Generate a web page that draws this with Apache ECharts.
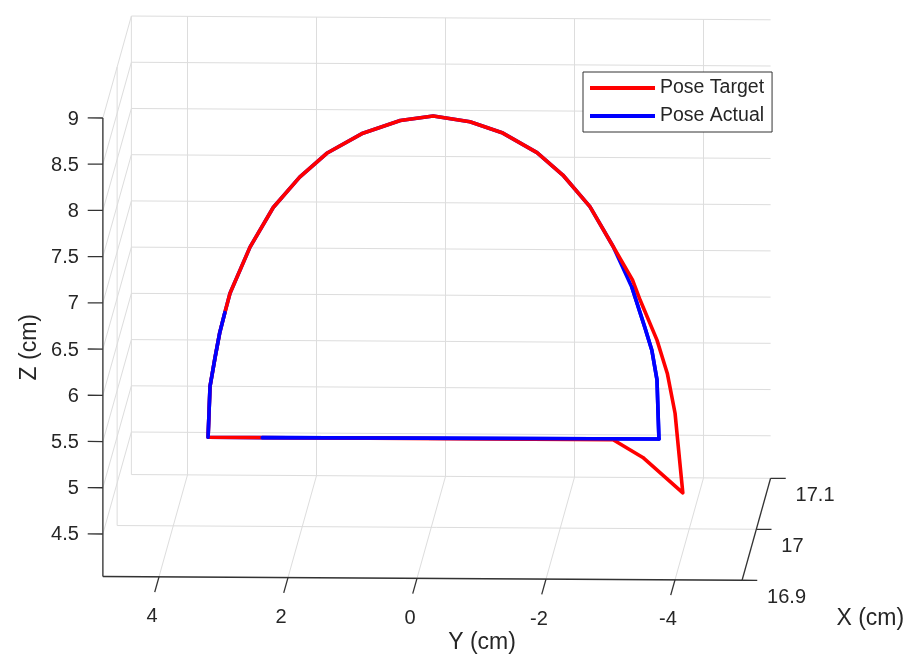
<!DOCTYPE html>
<html><head><meta charset="utf-8">
<script src="https://cdn.jsdelivr.net/npm/echarts@6/dist/echarts.min.js"></script>
<style>html,body{margin:0;padding:0;background:#fff}#c{width:911px;height:658px}</style>
</head><body><div id="c"></div>
<script>
const FONT = '"Liberation Sans", Arial, Helvetica, sans-serif';

// ---- axis limits and ticks (cm) ----
const xLim = [16.9, 17.1];
const yLim = [-5.04, 4.87];
const zLim = [4.04, 9.0];
const xTicks = [16.9, 17, 17.1];
const xTickLabels = ['16.9', '17', '17.1'];
const yTicks = [4, 2, 0, -2, -4];
const yTickLabels = ['4', '2', '0', '-2', '-4'];
const zTicks = [4.5, 5, 5.5, 6, 6.5, 7, 7.5, 8, 8.5, 9];
const zTickLabels = ['4.5', '5', '5.5', '6', '6.5', '7', '7.5', '8', '8.5', '9'];

// ---- Pose Target ----
const targetY = [-3.90, -3.28, -2.82, 3.46, 3.43, 3.35, 3.28, 3.20, 3.12, 2.81, 2.45, 2.04, 1.62, 1.06, 0.48, -0.03, -0.60, -1.11, -1.64, -2.04, -2.46, -2.82, -3.12, -3.24, -3.50, -3.66, -3.78, -3.83, -3.90];
const targetZ = [4.43, 4.81, 5.00, 5.00, 5.55, 5.87, 6.13, 6.35, 6.56, 7.06, 7.49, 7.82, 8.08, 8.30, 8.44, 8.49, 8.43, 8.31, 8.10, 7.86, 7.52, 7.09, 6.73, 6.51, 6.08, 5.72, 5.29, 4.93, 4.43];
const targetX = [17.0, 17.0, 17.0, 17.0, 17.0, 17.0, 17.0, 17.0, 17.0, 17.0, 17.0, 17.0, 17.0, 17.0, 17.0, 17.0, 17.0, 17.0, 17.0, 17.0, 17.0, 17.0, 17.0, 17.0, 17.0, 17.0, 17.0, 17.0, 17.0];

// ---- Pose Actual ----
const actualY = [-3.53, 2.62, 3.46, 3.43, 3.35, 3.28, 3.20, 3.12, 2.81, 2.45, 2.04, 1.62, 1.06, 0.48, -0.03, -0.60, -1.11, -1.64, -2.04, -2.46, -2.82, -3.11, -3.31, -3.42, -3.50, -3.51, -3.53];
const actualZ = [5.01, 5.00, 5.00, 5.55, 5.87, 6.13, 6.35, 6.56, 7.06, 7.49, 7.82, 8.08, 8.30, 8.44, 8.49, 8.43, 8.31, 8.10, 7.86, 7.52, 7.09, 6.65, 6.22, 5.97, 5.65, 5.43, 5.01];
const actualX = [17.0, 17.0, 17.0, 17.0, 17.0, 17.0, 17.0, 17.0, 17.0, 17.0, 17.0, 17.0, 17.0, 17.0, 17.0, 17.0, 17.0, 17.0, 17.0, 17.0, 17.0, 17.0, 17.0, 17.0, 17.0, 17.0, 17.0];
// index ranges of the actual path that lie in front of the target path (depth order)
const actualFrontRanges = [[0, 1], [2, 6], [21, 26]];

// ---- oblique 3D view projection into a hidden 2D value cartesian ----
const DEPTH_DU = -0.4419, DEPTH_DV = 1.103, SHEAR = 0.0041;
function proj(x, y, z) {
  const t = (x - xLim[0]) / (xLim[1] - xLim[0]);
  return [y + DEPTH_DU * t, z + DEPTH_DV * t + SHEAR * (y - yLim[1])];
}

// grid lines (walls)
const gridSegs = [];
const axisSegs = [];
function seg(arr, a, b) { const p = proj(a[0], a[1], a[2]); const q = proj(b[0], b[1], b[2]); arr.push([p[0], p[1], q[0], q[1]]); }
zTicks.forEach(z => seg(gridSegs, [xLim[1], yLim[0], z], [xLim[1], yLim[1], z]));
yTicks.forEach(y => seg(gridSegs, [xLim[1], y, zLim[0]], [xLim[1], y, zLim[1]]));
zTicks.forEach(z => seg(gridSegs, [xLim[0], yLim[1], z], [xLim[1], yLim[1], z]));
xTicks.forEach(x => seg(gridSegs, [x, yLim[1], zLim[0]], [x, yLim[1], zLim[1]]));
yTicks.forEach(y => seg(gridSegs, [xLim[0], y, zLim[0]], [xLim[1], y, zLim[0]]));
xTicks.forEach(x => seg(gridSegs, [x, yLim[0], zLim[0]], [x, yLim[1], zLim[0]]));

// axis lines + tick marks
const TICK_Y = 0.235, TICK_X = 0.15 * (xLim[1] - xLim[0]);
seg(axisSegs, [xLim[0], yLim[1], zLim[0]], [xLim[0], yLim[1], zLim[1]]);
zTicks.forEach(z => seg(axisSegs, [xLim[0], yLim[1], z], [xLim[0], yLim[1] + TICK_Y, z]));
seg(axisSegs, [xLim[0], yLim[0], zLim[0]], [xLim[0], yLim[1], zLim[0]]);
yTicks.forEach(y => seg(axisSegs, [xLim[0], y, zLim[0]], [xLim[0] - TICK_X, y, zLim[0]]));
seg(axisSegs, [xLim[0], yLim[0], zLim[0]], [xLim[1], yLim[0], zLim[0]]);
xTicks.forEach(x => seg(axisSegs, [x, yLim[0], zLim[0]], [x, yLim[0] - TICK_Y, zLim[0]]));

function segSeries(data, color, width, z) {
  return {
    type: 'custom', coordinateSystem: 'cartesian2d', silent: true, z: z, clip: false,
    animation: false, data: data,
    renderItem: function (params, api) {
      const p = api.coord([api.value(0), api.value(1)]);
      const q = api.coord([api.value(2), api.value(3)]);
      return { type: 'line', shape: { x1: p[0], y1: p[1], x2: q[0], y2: q[1] }, style: { stroke: color, lineWidth: width } };
    }
  };
}

// text items
const texts = [];
zTicks.forEach((z, i) => texts.push({ p: proj(xLim[0], yLim[1], z), text: zTickLabels[i], dx: -24, dy: 1, align: 'right', va: 'middle', size: 20 }));
yTicks.forEach((y, i) => texts.push({ p: proj(xLim[0], y, zLim[0]), text: yTickLabels[i], dx: -7, dy: 40, align: 'center', va: 'middle', size: 20 }));
xTicks.forEach((x, i) => texts.push({ p: proj(x, yLim[0], zLim[0]), text: xTickLabels[i], dx: 25, dy: 17, align: 'left', va: 'middle', size: 20 }));
texts.push({ p: proj(xLim[0], 0, zLim[0]), text: 'Y (cm)', dx: 65, dy: 64, align: 'center', va: 'middle', size: 23 });
texts.push({ p: proj((xLim[0] + xLim[1]) / 2, yLim[0], zLim[0]), text: 'X (cm)', dx: 114, dy: 89, align: 'center', va: 'middle', size: 23 });
texts.push({ p: proj(xLim[0], yLim[1], (zLim[0] + zLim[1]) / 2), text: 'Z (cm)', dx: -73, dy: 0, align: 'center', va: 'middle', size: 23, rot: Math.PI / 2 });

const textSeries = {
  type: 'custom', coordinateSystem: 'cartesian2d', silent: true, z: 6, clip: false, animation: false,
  data: texts.map((t, i) => [t.p[0], t.p[1], i]),
  renderItem: function (params, api) {
    const it = texts[api.value(2)];
    const c = api.coord([api.value(0), api.value(1)]);
    return {
      type: 'text', x: c[0] + it.dx, y: c[1] + it.dy, rotation: it.rot || 0,
      style: { text: it.text, fill: '#262626', fontSize: it.size, fontFamily: FONT, align: it.align, verticalAlign: it.va }
    };
  }
};

function path(X, Y, Z, from, to) {
  const out = [];
  for (let i = from; i <= to; i++) out.push(proj(X[i], Y[i], Z[i]));
  return out;
}
const lineBase = { type: 'line', symbol: 'none', showSymbol: false, clip: false, animation: false, smooth: false };
const series = [
  segSeries(gridSegs, '#dddddd', 1, 1),
  Object.assign({}, lineBase, { name: 'Pose Actual', z: 2, data: path(actualX, actualY, actualZ, 0, actualY.length - 1), lineStyle: { color: '#0000ff', width: 3.6, join: 'round', cap: 'round' }, itemStyle: { color: '#0000ff' } }),
  Object.assign({}, lineBase, { name: 'Pose Target', z: 3, data: path(targetX, targetY, targetZ, 0, targetY.length - 1), lineStyle: { color: '#ff0000', width: 3.6, join: 'round', cap: 'round' }, itemStyle: { color: '#ff0000' } })
];
actualFrontRanges.forEach(r => series.push(Object.assign({}, lineBase, { name: 'Pose Actual', z: 4, data: path(actualX, actualY, actualZ, r[0], r[1]), lineStyle: { color: '#0000ff', width: 3.6, join: 'round', cap: 'round' }, itemStyle: { color: '#0000ff' } })));
series.push(segSeries(axisSegs, '#333333', 1.3, 5));
series.push(textSeries);

const chart = echarts.init(document.getElementById('c'), null, { renderer: 'canvas' });
chart.setOption({
  animation: false,
  backgroundColor: '#ffffff',
  grid: { left: 0, right: 0, top: 0, bottom: 0, containLabel: false },
  xAxis: { type: 'value', min: -7.6589, max: 6.4651, inverse: true, show: false },
  yAxis: { type: 'value', min: 3.1584, max: 10.2765, show: false },
  legend: {
    data: ['Pose Target', 'Pose Actual'], orient: 'vertical', left: 583, top: 72,
    icon: 'rect', itemWidth: 65, itemHeight: 4, itemGap: 8, padding: [6, 8, 6, 7],
    borderColor: '#333333', borderWidth: 1, backgroundColor: '#ffffff', selectedMode: false,
    textStyle: { fontSize: 19.5, color: '#262626', fontFamily: FONT, lineHeight: 20 }
  },
  series: series
});
</script></body></html>
